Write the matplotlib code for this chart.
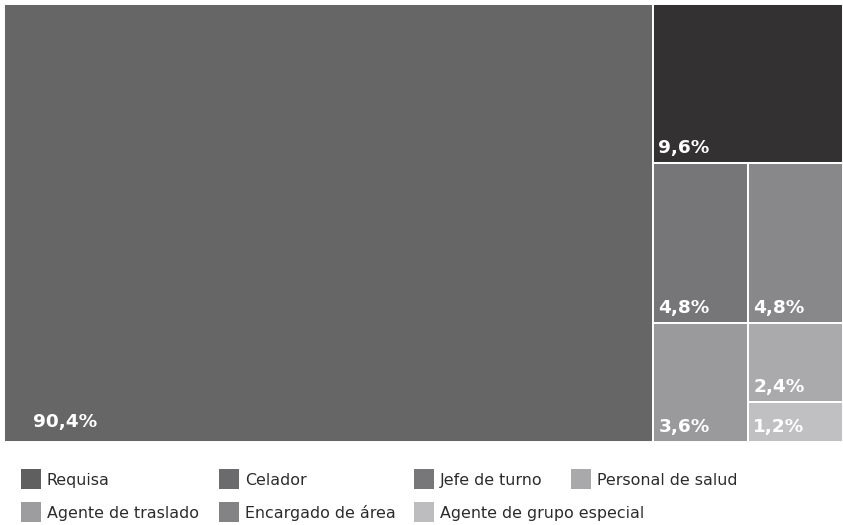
import matplotlib
matplotlib.use("Agg")
import matplotlib.pyplot as plt
from matplotlib.patches import Rectangle

# data (legend order)
categories = ["Requisa", "Celador", "Jefe de turno", "Personal de salud",
              "Agente de traslado", "Encargado de área", "Agente de grupo especial"]
values = [90.4, 9.6, 4.8, 2.4, 3.6, 4.8, 1.2]
labels = ["90,4%", "9,6%", "4,8%", "2,4%", "3,6%", "4,8%", "1,2%"]
legend_colors = ["#5f5f60", "#6b6b6d", "#77777a", "#a9a9ac", "#9d9d9f", "#838386", "#bdbdc0"]
tile_colors = ["#666667", "#333132", "#767679", "#aaaaad", "#9a9a9d", "#88888b", "#c0c0c3"]

W, H = 843, 525
plt.rcParams["font.family"] = ["DejaVu Sans"]


def worst(row, side):
    s = sum(row)
    return max(max(side * side * r / (s * s), s * s / (side * side * r)) for r in row)


def squarify(vals, x, y, w, h):
    total = sum(vals)
    areas = [v * w * h / total for v in vals]
    rects = []
    i = 0
    while i < len(areas):
        side = min(w, h)
        row = [areas[i]]
        j = i + 1
        while j < len(areas) and worst(row + [areas[j]], side) <= worst(row, side):
            row.append(areas[j])
            j += 1
        s = sum(row)
        if w >= h:
            cw = s / h
            yy = y
            for a in row:
                rects.append((x, yy, cw, a / cw))
                yy += a / cw
            x += cw
            w -= cw
        else:
            rh = s / w
            xx = x
            for a in row:
                rects.append((xx, y, a / rh, rh))
                xx += a / rh
            y += rh
            h -= rh
        i = j
    return rects


fig = plt.figure(figsize=(W / 100, H / 100), dpi=100)
aw, ah = 839, 438
ax = fig.add_axes([4 / W, (H - 442) / H, aw / W, ah / H])
ax.set_xlim(0, aw)
ax.set_ylim(ah, 0)
ax.axis("off")

order = sorted(range(len(values)), key=lambda k: -values[k])
rects = squarify([values[k] for k in order], 0, 0, aw, ah)
for k, (x, y, w, h) in zip(order, rects):
    ax.add_patch(Rectangle((x, y), w, h, facecolor=tile_colors[k],
                           edgecolor="white", linewidth=1.4, clip_on=False))
    padx = 29 if w > 400 else 5
    pady = 15 if w > 400 else 10
    ax.text(x + padx, y + h - pady, labels[k], color="white", fontsize=13.3,
            fontweight="bold", ha="left", va="baseline")

# legend (flow layout)
leg_x = [21, 219, 414, 571, 21, 219, 414]
leg_row = [0, 0, 0, 0, 1, 1, 1]
row_y = [479, 512]
for k, cat in enumerate(categories):
    cx = leg_x[k]
    cy = row_y[leg_row[k]]
    fig.patches.append(Rectangle((cx / W, 1 - (cy + 10) / H), 20 / W, 20 / H,
                                 facecolor=legend_colors[k], edgecolor="none",
                                 transform=fig.transFigure, figure=fig))
    fig.text((cx + 26) / W, 1 - (cy + 6) / H, cat, fontsize=11.4, color="#2b2b2b",
             ha="left", va="baseline")

fig.savefig("out.png", dpi=100, facecolor="white")
